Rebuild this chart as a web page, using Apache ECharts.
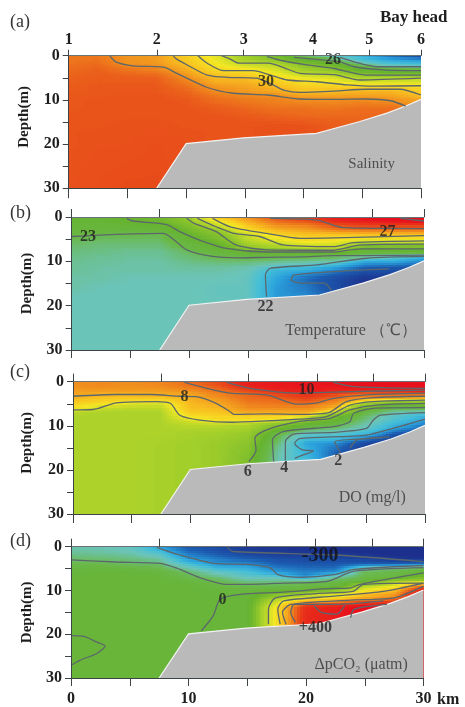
<!DOCTYPE html>
<html><head><meta charset="utf-8">
<style>html,body{margin:0;padding:0;background:#fff}#c{width:465px;height:707px;filter:blur(0.45px)}</style>
<script src="https://cdn.jsdelivr.net/npm/echarts@6/dist/echarts.min.js"></script></head>
<body><div id="c"></div>
<script>
const kmNodes=[0,2.5,5,7.5,10,12.5,15,17.5,20,22.5,25,27.5,30];
const depthNodes=[0,1,2,3,4,5,6,7,8,9,10,12,14,16,18,20,30];
const stationKm=[0,7.5,14.9,20.8,25.6,30];
const stationNames=['1','2','3','4','5','6'];
const terrainKm=[7.5,10,14.9,21.1,24.8,27.1,28.7,30,30,7.5];
const terrainDepth=[30,19.9,18.6,17.6,14.9,13,11.4,9.9,30,30];

const salinity=[
[31.6,31.6,31.7,31.8,32,32.1,32.2,32.3,32.3,32.4,32.4,32.4,32.5,32.5,32.5,32.5,32.6],
[31.6,31.7,31.9,32.1,32.2,32.3,32.3,32.4,32.4,32.4,32.5,32.5,32.5,32.5,32.6,32.6,32.7],
[30.9,30.95,31,31.5,31.9,32.2,32.3,32.4,32.4,32.5,32.5,32.5,32.5,32.6,32.6,32.6,32.8],
[30.8,30.8,30.9,31.2,31.7,32.1,32.3,32.4,32.4,32.5,32.5,32.5,32.5,32.6,32.6,32.7,32.8],
[29.6,29.8,30,30.3,30.7,31,31.4,31.7,32,32.2,32.4,32.5,32.5,32.5,32.6,32.6,32.6],
[28.6,28.8,28.9,29.2,29.7,30.1,30.4,30.8,31.1,31.5,31.8,32.3,32.5,32.5,32.5,32.5,32.5],
[27.5,27.8,28.2,28.8,29.4,30,30.3,30.6,30.8,31.1,31.5,32,32.4,32.5,32.5,32.5,32.5],
[26.7,27.3,28,28.4,28.8,29.2,29.7,30.1,30.5,31,31.3,31.7,32.2,32.6,32.6,32.6,32.6],
[25.5,26.3,27.1,27.5,28,28.6,29.1,29.5,29.9,30.5,31.05,31.7,32,32.6,32.6,32.6,32.6],
[24.8,25.8,26.5,27.1,27.8,28.4,28.9,29.5,30,30.5,31.05,31.6,32,32.3,32.3,32.3,32.3],
[23.7,24.5,25.4,26.1,26.8,27.7,28.5,29.2,30.2,30.6,31.1,31.8,32,32,32,32,32],
[22,23.5,24.6,25.7,26.6,27.8,28.5,29.2,30.2,30.5,30.9,31.8,32,32,32,32,32],
[21,23,24.4,25.5,26.6,27.8,28.5,29.1,29.6,30,30.5,31.2,31.5,31.5,31.5,31.5,31.5]];
const temperature=[
[23.5,23.5,23.4,23.3,23.1,22.9,22.8,22.7,22.6,22.6,22.5,22.5,22.4,22.4,22.3,22.3,22.3],
[23.5,23.5,23.4,23.3,23,22.8,22.7,22.6,22.6,22.5,22.5,22.4,22.4,22.3,22.3,22.3,22.3],
[23.9,23.8,23.5,23.3,22.95,22.8,22.7,22.6,22.5,22.5,22.4,22.4,22.3,22.3,22.3,22.3,22.3],
[24,23.9,23.7,23.3,22.9,22.8,22.7,22.6,22.5,22.5,22.4,22.4,22.3,22.3,22.3,22.3,22.3],
[24.5,24.4,24.2,24,23.85,23.6,23.3,23,22.8,22.7,22.6,22.4,22.3,22.3,22.3,22.3,22.3],
[25.8,25.4,25,24.5,24.3,24.1,23.9,23.6,23.2,22.95,22.7,22.4,22.3,22.25,22.25,22.3,22.3],
[26.4,26.1,25.8,25.5,25,24.85,24.65,24.45,23.7,23.1,22.7,22.3,22.25,22.25,22.25,22.25,22.25],
[26.9,26.7,26.4,26,25.7,25.3,25,24.6,23.9,23,22.6,21.9,21.7,21.6,21.6,21.6,21.6],
[27.1,26.9,26.5,26.2,25.9,25.65,25.3,24.8,24,23,22.5,21.8,21.3,21.4,21.5,21.5,21.5],
[27.4,27.3,26.9,26.5,25.9,25.5,25.2,24.9,24.2,22.9,22.4,21.5,21,21,21.1,21.1,21.1],
[27.5,27.4,27.1,26.6,26,25.3,24.8,23.9,23.4,22.6,21.8,21.1,20.7,20.6,20.6,20.6,20.6],
[27.8,27.5,27.1,26.6,26,25.4,24.8,24,23.4,22.2,21.8,21,20.8,20.8,20.8,20.8,20.8],
[28,27.6,27.1,26.6,26,25.4,24.8,24,23.4,21.9,21.5,21,21,21,21,21,21]];
const oxygen=[
[8.4,8.4,8.3,8.1,7.9,7.7,7.55,7.1,7,7,7,7,7,7,7,7,7],
[8.5,8.5,8.3,7.95,7.75,7.6,7.2,7,7,7,7,7,7,7,7,7,7],
[8.5,8.4,8.3,7.95,7.7,7.4,7.1,7,7,7,7,7,7,7,7,7,7],
[8.6,8.5,8.3,8,7.7,7.3,7.1,7,7,7,7,7,6.9,6.9,6.9,6.9,6.9],
[9,8.8,8.5,8.1,7.95,7.9,7.85,7.75,7.55,7.25,7.1,6.9,6.8,6.8,6.8,6.8,6.8],
[9.5,9.2,8.9,8.6,8.3,8.1,7.9,7.8,7.65,7.5,7.1,6.8,6.6,6.6,6.6,6.6,6.6],
[10.3,10,9.5,9,8.9,8.7,8.5,8.1,7.7,7.45,7,6.5,6.3,6.1,6,6,6],
[10.6,10.4,10,9.4,9,8.8,8.5,8.1,7.7,7.3,6.1,5,4.6,4.3,4.2,4.2,4.2],
[10.8,10.6,10.3,9.8,9.4,9,8.5,8.1,7.6,6.1,5.4,3.9,2.7,3,3.1,3.1,3.1],
[11,10.6,10.1,9.4,8.8,8.4,7.9,7.2,5.8,5.4,5,3.7,2.5,2,2,2,2],
[11.2,11,10,9,7.9,7,5.7,5,4.7,4.4,4.2,3.1,1.6,1.2,1.2,1.2,1.2],
[11.3,11.1,10,9.2,7.8,6,5,4.3,3.8,3.4,3,1.9,1,1,1,1,1],
[11.4,11.1,10.1,9.3,7.6,6.1,5.1,4,3,2.6,2.3,1.5,1,1,1,1,1]];
const deltaPCO2=[
[-90,-80,-65,-50,-30,-15,-5,0,0,0,0,0,0,0,0,0,0],
[-95,-85,-70,-55,-30,-10,0,0,0,0,0,0,0,0,0,0,0],
[-110,-95,-80,-60,-45,-20,0,0,0,0,0,0,0,0,0,0,0],
[-190,-150,-110,-80,-50,-30,-10,0,0,0,0,0,0,0,0,0,0],
[-270,-240,-215,-190,-140,-90,-50,-30,-10,0,0,0,0,0,0,0,0],
[-290,-270,-250,-220,-200,-160,-110,-60,-35,-15,-5,0,0,0,0,0,0],
[-310,-300,-280,-250,-205,-170,-140,-110,-70,-30,-10,0,0,0,0,0,0],
[-320,-305,-295,-270,-250,-220,-190,-110,-70,-30,-5,110,190,190,190,190,190],
[-325,-310,-295,-280,-260,-240,-220,-200,-60,-20,0,200,430,440,440,440,440],
[-330,-320,-298,-280,-260,-240,-205,-80,-35,-5,50,230,470,470,470,470,470],
[-335,-325,-310,-290,-250,-100,-40,-25,-10,110,170,300,520,520,520,520,520],
[-335,-330,-320,-305,-250,-60,-30,-10,80,170,240,340,520,520,520,520,520],
[-340,-335,-325,-310,-230,-40,0,40,90,350,450,500,500,500,500,500,500]];

const salinityScale=[[20,0],[21,.03],[22,.1],[23,.18],[24,.25],[25,.34],[26,.45],[27,.5],[28,.57],[29,.66],[30,.72],[31,.79],[32,.85],[33,.9],[34,1]];
const temperatureScale=[[20.6,0],[21.2,.1],[22,.28],[22.3,.35],[23,.43],[23.8,.47],[24.4,.52],[25,.6],[25.6,.68],[26.3,.78],[27,.9],[27.5,1]];
const oxygenScale=[[1,0],[2,.1],[3,.25],[4,.34],[5,.43],[6,.5],[7,.56],[7.5,.66],[8,.75],[9,.85],[10,.97],[11,1]];
const pco2Scale=[[-320,0],[-300,.03],[-200,.18],[-120,.32],[-50,.4],[0,.45],[100,.55],[200,.67],[300,.78],[400,.92],[500,1]];

const salinityContours=[
[[3.5,0],[4,1.4],[5.5,2.3],[8.1,2.6],[9.2,4],[11.8,7.2],[14,8.5],[16.9,8.9],[19.7,9.8],[22.6,9.9],[25.4,9.8],[27.4,10.2],[28.7,11.4]],
[[8.9,0],[9.1,.6],[10.1,2.1],[11.8,4.4],[13.5,4.9],[16,5.1],[17.4,6.6],[18.3,7.8],[19.7,8.3],[22.6,8],[25.4,7.6],[28.2,7.6],[30,8.9]],
[[11,0],[11.8,1.7],[13.2,3.4],[15.7,3.4],[17.2,4.4],[18.6,5.5],[21.1,5.9],[23.7,6.6],[26,6.9],[30,6.8]],
[[13,0],[13.7,.7],[14.5,1.7],[17,1.7],[18.5,2.9],[19.7,4],[22.6,4.3],[24.8,5.5],[30,5.1]],
[[16.9,.2],[18.3,1.2],[20.3,2.1],[22.6,2.9],[25.4,4.4],[30,4.4]],
[[19.2,.4],[21.8,1],[23.1,1.4],[24.3,2.5],[26.8,3.2],[30,3.4]],
[[23.1,.4],[24.3,1.4],[26.2,2.5],[30,2.5]]];
const temperatureContours=[
[[0,4.4],[2.4,4.1],[5.2,3.8],[7.8,3.7],[8.6,4.9],[9.8,7.4],[12,8.9],[14.3,9.2],[16.6,9.1],[19.5,9],[22.3,8.7],[25.1,8.7],[30,8.6]],
[[4.7,.3],[5.2,.9],[8.1,1.7],[9.2,3.3],[10.9,5.2],[13.2,7.1],[16.6,7.9],[22.3,7.9],[24.6,7.2],[30,7.2]],
[[9.8,.3],[10.4,1.4],[12.3,3.3],[14,6.3],[16.6,7.4],[22.3,7.5],[24.6,6.3],[30,6.1]],
[[10.7,.3],[12.3,2.2],[13.8,3.7],[16,4.4],[18,6.3],[22.3,6.7],[24,5.8],[30,5.4]],
[[12,.3],[13.5,2.2],[16.6,3.7],[19.4,4.8],[22.3,4.7],[30,4.2]],
[[16.9,.3],[20.9,.7],[23.1,2.4],[30,2.6]],
[[28,.3],[30,.9]],
[[16.6,18],[16.5,13.1],[16.9,11.6],[20.9,10.8],[25.1,9.3],[30,8.9]],
[[27,11.7],[22.3,12.3],[18.9,13.1],[18.7,14.2],[19.5,14.9],[21.5,14.9],[22.1,16.5]]];
const oxygenContours=[
[[0,6.4],[1.7,6.3],[3.7,4.8],[7.1,4.5],[8.3,4.9],[9.1,7.6],[10.8,8.7],[13.6,9.2],[16.5,8.9],[19.3,8.5],[21.6,7.9],[23.6,5.3],[25.6,4.5],[30,4.2]],
[[0,3.3],[3.7,2.9],[6.6,2.9],[9.1,3.3],[10.5,3.4],[12.2,4.9],[13.4,6.8],[13.7,7.4],[16.5,7.3],[19.3,7.4],[21.8,7],[23.3,4.5],[25.6,3.6],[30,3.3]],
[[9.5,.15],[11.4,1.5],[13.4,2.6],[16.5,3],[19.1,5.1],[20.8,4.8],[22.2,3.8],[25,3],[30,2.6]],
[[13.1,.15],[15.1,1.5],[19.3,2.6],[22.8,2.3],[30,1.9]],
[[22.2,.15],[23.9,1.1],[30,1.5]],
[[15,18.1],[15.6,15.5],[15.5,12.8],[16.5,10.9],[19.3,9],[21.9,8.3],[23.6,6.4],[25.8,5.3],[30,4.9]],
[[17.1,18.1],[17,13.2],[17.9,11.3],[22.2,10.2],[23.6,9.1],[23.9,7.2],[25.8,6],[30,5.9]],
[[18.1,17.8],[18.1,13.6],[18.8,11.9],[22.2,11.5],[25,10.6],[25.6,8.7],[26.2,7.6],[30,7]],
[[18.9,17.4],[19.5,16.7],[20.5,15.7],[19.5,15.4],[18.9,14],[19.3,12.9],[25,12.1],[27.8,10.2],[30,8.5]],
[[22.8,16.2],[22.5,14.7],[22.3,13.6],[25,12.9],[27,12.5]],
[[23.6,15.1],[24.2,13.2],[26.4,12.7]]];
const pco2Contours=[
[[0,3],[3.9,3.5],[7.6,3.8],[9,4.9],[11,7.1],[13.3,8.6],[15.3,8.6],[18.1,8.3],[21.8,7.9],[24.1,5.6],[30,4.8]],
[[7.3,.15],[9,1.7],[12.1,3.8],[15.3,4.1],[17,4.9],[17.6,6.4],[19.5,7],[22.4,6.4],[24.1,5.2],[30,4.3]],
[[13.3,.15],[13.8,1.1],[22.4,1.9],[30,3.4]],
[[11.1,19.2],[12.1,15.8],[12.7,12],[14.4,10.9],[18.1,10.4],[21.8,9.6],[23.8,9.4],[24.6,8.6],[30,6]],
[[16.8,17.7],[16.8,14.3],[17.4,11.7],[20.9,10.7],[24,10.2],[24.9,8.6],[30,8.3]],
[[17.8,17.7],[17.6,14.3],[18.1,12.4],[22.4,11.3],[26.6,10.2],[30,8.3]],
[[18.3,17.7],[18,15],[18.7,13.2],[23.8,12.2],[27.5,11.7],[30,9]],
[[19.1,17.3],[18.7,15],[19,13.2],[22.4,13.2],[26.6,12.4]],
[[20.7,13.5],[21.3,15],[22.6,15.4],[23.3,13.4]],
[[23.8,16.2],[24.1,14.3],[26.9,13.2]],
[[0,20.3],[1.1,20.5],[2.2,21.8],[2.9,22.7],[2.2,24.4],[.8,25.9],[0,27.1]]];

const salinityLabels=[[22.5,1,'26'],[16.8,5.9,'30']];
const temperatureLabels=[[1.4,4.4,'23'],[26.9,3.3,'27'],[16.5,20.2,'22']];
const oxygenLabels=[[19.9,1.9,'10'],[9.5,3.4,'8'],[14.9,20.4,'6'],[18,19.5,'4'],[22.6,17.9,'2']];
const pco2Labels=[[12.9,12.2,'0'],[20.8,18.6,'+400']];
const pco2BigLabel=[[21.2,2.1,'-300']];
const captions=[[[25.8,24.6,'Salinity']],[[23.8,25.7,'Temperature （℃）']],[[25.5,26.4,'DO (mg/l)']],[[24.7,26.9,'ΔpCO₂ (μatm)']]];
const panelNames=['(a)','(b)','(c)','(d)'];

const rampPos=[0,.1,.2,.28,.35,.42,.47,.56,.65,.72,.8,.88,1];
const rampColors=['#1c2f8c','#1c5cb0','#2aa0dc','#45bfd8','#6cc4b8','#6ab84a','#66b32e','#acd32a','#f4e824','#f8c020','#f08a1e','#e8501a','#e8101c'];
const lut=[];
for(let i=0;i<=255;i++){const t=i/255;let s=0;while(s<rampPos.length-2&&t>rampPos[s+1])s++;
  lut.push(echarts.color.lerp((t-rampPos[s])/(rampPos[s+1]-rampPos[s]),[rampColors[s],rampColors[s+1]]));}
function colorOf(v,scale){
  if(v<=scale[0][0])return lut[Math.round(scale[0][1]*255)];
  const n=scale.length-1;if(v>=scale[n][0])return lut[Math.round(scale[n][1]*255)];
  let s=0;while(v>scale[s+1][0])s++;
  const t=scale[s][1]+(v-scale[s][0])/(scale[s+1][0]-scale[s][0])*(scale[s+1][1]-scale[s][1]);
  return lut[Math.round(t*255)];
}

const panels=[
 {left:68.7,top:55.7,w:352.3,h:132.5,field:salinity,scale:salinityScale,lines:salinityContours,labels:salinityLabels,labelY:23,nameGap:37,namePad:[0,0,0,10],botTick:10},
 {left:71.6,top:217,w:352.4,h:133,field:temperature,scale:temperatureScale,lines:temperatureContours,labels:temperatureLabels,labelY:214,nameGap:37,namePad:0,botTick:8},
 {left:73,top:381.7,w:352,h:132.3,field:oxygen,scale:oxygenScale,lines:oxygenContours,labels:oxygenLabels,labelY:373,nameGap:38,namePad:[0,0,0,10],botTick:9},
 {left:71,top:546.7,w:352.5,h:133,field:deltaPCO2,scale:pco2Scale,lines:pco2Contours,labels:pco2Labels,labelY:542,nameGap:36,namePad:0,botTick:8}
];
const serif='"Liberation Serif","Times New Roman",serif';
const ink='#1e1e1e';
const grid=[],xAxis=[],yAxis=[],series=[],graphic=[];
panels.forEach((p,i)=>{
  grid.push({left:p.left,top:p.top,width:p.w,height:p.h,containLabel:false});
  const axisLine={show:true,onZero:false,lineStyle:{color:'#3c4448',width:1}};
  xAxis.push({gridIndex:i,type:'value',position:'bottom',min:0,max:30,interval:5,z:10,splitLine:{show:false},axisLine,
    axisTick:{show:true,length:p.botTick,inside:false,lineStyle:{color:'#3c4448'}},
    axisLabel:{show:i===3,margin:13,color:ink,fontFamily:serif,fontWeight:'bold',fontSize:16,hideOverlap:false,
      formatter:v=>v%10===0?String(v):''}});
  xAxis.push({gridIndex:i,type:'value',position:'top',min:0,max:30,z:10,splitLine:{show:false},axisLine:{show:true,onZero:false,lineStyle:{color:'#6a7276',width:1}},
    axisTick:{show:true,length:i===0?6:8,customValues:stationKm,lineStyle:{color:'#3c4448'}},
    axisLabel:{show:i===0,margin:8,customValues:stationKm,color:ink,fontFamily:serif,fontWeight:'bold',fontSize:16,hideOverlap:false,
      formatter:v=>stationNames[stationKm.indexOf(v)]}});
  yAxis.push({gridIndex:i,type:'value',inverse:true,min:0,max:30,interval:5,z:10,splitLine:{show:false},axisLine,
    name:'Depth(m)',nameLocation:'middle',nameGap:p.nameGap,nameRotate:90,
    nameTextStyle:{color:ink,fontFamily:serif,fontWeight:'bold',fontSize:15,padding:p.namePad},
    axisTick:{show:true,length:6,lineStyle:{color:'#3c4448'}},
    axisLabel:{margin:9,color:ink,fontFamily:serif,fontWeight:'bold',fontSize:16,formatter:v=>v%10===0?String(v):''}});
  const cells=[];
  for(let c=0;c<kmNodes.length-1;c++)for(let r=0;r<depthNodes.length-1;r++)
    cells.push([kmNodes[c],kmNodes[c+1],depthNodes[r],depthNodes[r+1],p.field[c][r],p.field[c+1][r],p.field[c][r+1],p.field[c+1][r+1]]);
  series.push({type:'custom',xAxisIndex:2*i,yAxisIndex:i,silent:true,z:1,animation:false,clip:true,progressive:0,encode:{x:0,y:2},data:cells,
    renderItem:(params,api)=>{
      const [k0,k1,d0,d1,v00,v10,v01,v11]=cells[params.dataIndex];
      const a=api.coord([k0,d0]),b=api.coord([k1,d1]);
      const nx=Math.max(1,Math.round((b[0]-a[0])/3)),ny=Math.max(1,Math.round((b[1]-a[1])/2));
      const children=[];
      for(let ix=0;ix<nx;ix++)for(let iy=0;iy<ny;iy++){
        const u=(ix+.5)/nx,w=(iy+.5)/ny;
        const v=(1-u)*(1-w)*v00+u*(1-w)*v10+(1-u)*w*v01+u*w*v11;
        const x0=Math.floor(a[0]+(b[0]-a[0])*ix/nx),x1=Math.ceil(a[0]+(b[0]-a[0])*(ix+1)/nx);
        const y0=Math.floor(a[1]+(b[1]-a[1])*iy/ny),y1=Math.ceil(a[1]+(b[1]-a[1])*(iy+1)/ny);
        children.push({type:'rect',shape:{x:x0,y:y0,width:x1-x0,height:y1-y0},style:{fill:colorOf(v,p.scale)}});
      }
      return {type:'group',children};
    }});
  series.push({type:'custom',xAxisIndex:2*i,yAxisIndex:i,silent:true,z:2,animation:false,clip:true,encode:{x:0,y:1},
    data:[[terrainKm[0],terrainDepth[0]]],
    renderItem:(params,api)=>{
      const pts=terrainKm.map((k,j)=>api.coord([k,terrainDepth[j]]));
      return {type:'group',children:[
        {type:'polygon',shape:{points:pts},style:{fill:'#bababa'}},
        {type:'polyline',shape:{points:pts.slice(0,8)},style:{fill:'none',stroke:'#f2f2f2',lineWidth:1.2}}]};
    }});
  p.lines.forEach(line=>series.push({type:'line',xAxisIndex:2*i,yAxisIndex:i,data:line,showSymbol:false,smooth:.25,silent:true,z:3,animation:false,
    lineStyle:{color:'#5c676c',width:1.3}}));
  const textSeries=(data,style)=>series.push({type:'scatter',xAxisIndex:2*i,yAxisIndex:i,data,symbolSize:0,silent:true,z:6,animation:false,clip:false,
    label:{show:true,position:'inside',formatter:o=>o.value[2],fontFamily:serif,color:ink,...style}});
  textSeries(p.labels,{fontWeight:'bold',fontSize:16});
  textSeries(captions[i],{fontSize:i===0?15:16,color:'#333'});
  if(i===3)textSeries(pco2BigLabel,{fontWeight:'bold',fontSize:20,color:'#111'});
  graphic.push({type:'text',left:10,top:p.labelY-10,silent:true,style:{text:panelNames[i],font:'18px '+serif,fill:'#333'}});
});
graphic.push({type:'text',left:380,top:9,silent:true,style:{text:'Bay head',font:'bold 17px '+serif,fill:ink}});
graphic.push({type:'text',left:437,top:692,silent:true,style:{text:'km',font:'bold 16px '+serif,fill:ink}});
const chart=echarts.init(document.getElementById('c'),null,{renderer:'canvas'});
chart.setOption({animation:false,backgroundColor:'#fff',grid,xAxis,yAxis,series,graphic});
</script></body></html>
